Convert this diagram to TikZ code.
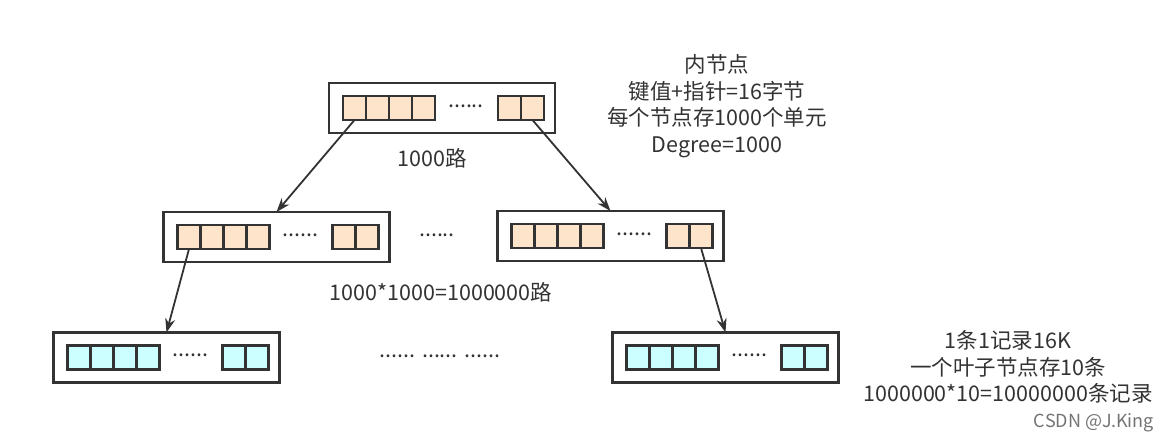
\documentclass[tikz,border=0pt]{standalone}
\usepackage{fontspec}
\setmainfont{Noto Sans CJK SC}
\usepackage{tikz}
\usetikzlibrary{arrows.meta}
\definecolor{cellpeach}{RGB}{255,228,204}
\definecolor{cellcyan}{RGB}{204,255,255}
\definecolor{edgegray}{RGB}{51,51,51}

\begin{document}
\begin{tikzpicture}[x=1pt, y=-1pt, font=\fontsize{21.5}{26.5}\selectfont,
  outerbox/.style={draw=edgegray, line width=2.2pt, minimum width=226pt, minimum height=50pt, inner sep=0pt, outer sep=0pt},
  cellbox/.style={draw=edgegray, line width=2.2pt, minimum width=23pt, minimum height=24pt, inner sep=0pt, outer sep=0pt},
  link/.style={draw=edgegray, line width=1.8pt, -{Stealth[length=14pt, width=10pt]}},
  txt/.style={align=center, text=black!80, inner sep=0pt}]
  \useasboundingbox (0,0) rectangle (1174,442);
  \foreach \n/\x/\y/\c in {top/442/108/cellpeach, midL/276.5/237/cellpeach, midR/610.5/236/cellpeach,
                           botL/166.5/357.5/cellcyan, botR/725.5/357.5/cellcyan} {
    \node[outerbox] (\n) at (\x,\y) {};
    \foreach \i/\dx in {0/-87.5, 1/-64.5, 2/-41.5, 3/-18.5, 4/67.5, 5/90.5}
      \node[cellbox, fill=\c] (\n-c\i) at ([xshift=\dx pt]\n.center) {};
    \node[txt] (\n-dots) at ([xshift=24pt, yshift=2pt]\n.center) {......};
  }
  \draw[link] (top-c0.south) -- (midL.north);
  \draw[link] (top-c5.south) -- (midR.north);
  \draw[link] (midL-c0.south) -- (botL.north);
  \draw[link] (midR-c5.south) -- (botR.north);
  \node[txt] (ways1) at (432,158) {1000路};
  \node[txt] (inner) at (717,106) {内节点\\键值+指针=16字节\\每个节点存1000个单元\\Degree=1000};
  \node[txt] (middots) at (437,235) {......};
  \node[txt] (ways2) at (441,292) {1000*1000=1000000路};
  \node[txt] (botdots) at (440,356) {...... ...... ......};
  \node[txt] (leaf) at (1008,367) {1条1记录16K\\一个叶子节点存10条\\1000000*10=10000000条记录};
  \node[txt, text=black!55, font=\fontsize{18}{20}\selectfont] (csdn) at (1094,423) {CSDN @J.King};
\end{tikzpicture}
\end{document}
